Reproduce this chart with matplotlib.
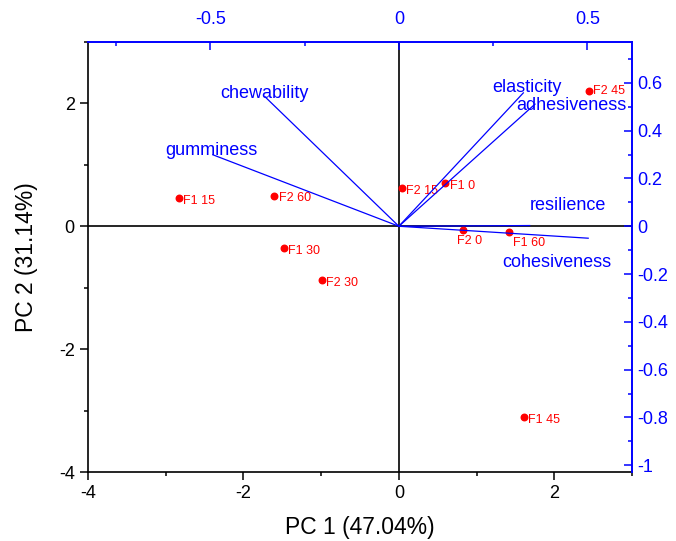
"""PCA biplot of texture attributes: sample scores with attribute loadings."""
import matplotlib.pyplot as plt
from matplotlib.ticker import FuncFormatter, MultipleLocator

plt.rcParams["font.family"] = ["Liberation Sans", "DejaVu Sans"]
plt.rcParams["axes.unicode_minus"] = False

# sample scores (PC1, PC2)
samples = ["F1 15", "F2 60", "F1 30", "F2 30", "F2 15", "F1 0", "F2 0", "F1 60", "F2 45", "F1 45"]
pc1_scores = [-2.83, -1.60, -1.48, -0.99, 0.04, 0.60, 0.82, 1.42, 2.45, 1.61]
pc2_scores = [0.46, 0.50, -0.36, -0.88, 0.62, 0.70, -0.06, -0.09, 2.20, -3.10]

# attribute loadings (PC1, PC2)
attributes = ["chewability", "gumminess", "elasticity", "adhesiveness", "resilience", "cohesiveness"]
pc1_loadings = [-0.355, -0.493, 0.330, 0.361, 0.347, 0.502]
pc2_loadings = [0.542, 0.299, 0.558, 0.511, 0.003, -0.050]

# label placement
score_label_offsets = {"F2 0": (-4, -8), "F1 60": (3, -8), "F2 45": (3, 0)}
attr_label_pos = {
    "chewability": (-0.355, 0.557),
    "gumminess": (-0.496, 0.316),
    "elasticity": (0.340, 0.580),
    "adhesiveness": (0.458, 0.506),
    "resilience": (0.447, 0.088),
    "cohesiveness": (0.419, -0.150),
}

BLUE = "#0000ff"
RED = "#ff0000"
score_xlim, score_ylim = (-4, 3), (-4, 3)
load_xscale, load_yscale = 4.852, 3.89

fig = plt.figure(figsize=(6.76, 5.41), dpi=100)
rect = [0.130, 0.1275, 0.805, 0.795]
ax = fig.add_axes(rect)
axl = fig.add_axes(rect, facecolor="none")

# scores axes: bottom / left
ax.set_xlim(*score_xlim)
ax.set_ylim(*score_ylim)
ax.axhline(0, color="black", lw=1.2, zorder=1)
ax.axvline(0, color="black", lw=1.2, zorder=1)
ax.scatter(pc1_scores, pc2_scores, s=22, color=RED, zorder=3)
for name, x, y in zip(samples, pc1_scores, pc2_scores):
    dx, dy = score_label_offsets.get(name, (3, -2))
    ax.annotate(name, (x, y), xytext=(dx, dy), textcoords="offset points",
                ha="left", va="center", fontsize=9, color=RED)

ax.xaxis.set_major_locator(MultipleLocator(2))
ax.xaxis.set_minor_locator(MultipleLocator(1))
ax.yaxis.set_major_locator(MultipleLocator(2))
ax.yaxis.set_minor_locator(MultipleLocator(1))
ax.tick_params(which="both", direction="out", width=1.1, labelsize=13)
ax.tick_params(which="major", length=6)
ax.tick_params(which="minor", length=3)
for side in ("top", "right"):
    ax.spines[side].set_visible(False)
for side in ("left", "bottom"):
    ax.spines[side].set_linewidth(1.2)
ax.set_xlabel("PC 1 (47.04%)", fontsize=16.5, labelpad=10)
ax.set_ylabel("PC 2 (31.14%)", fontsize=16.5, labelpad=15)

# loadings axes: top / right
axl.set_xlim(score_xlim[0] / load_xscale, score_xlim[1] / load_xscale)
axl.set_ylim(score_ylim[0] / load_yscale, score_ylim[1] / load_yscale)
for name, lx, ly in zip(attributes, pc1_loadings, pc2_loadings):
    axl.plot([0, lx], [0, ly], color=BLUE, lw=0.9)
    tx, ty = attr_label_pos[name]
    axl.text(tx, ty, name, ha="center", va="center", fontsize=13, color=BLUE)

axl.xaxis.tick_top()
axl.yaxis.tick_right()
axl.xaxis.set_major_locator(MultipleLocator(0.5))
axl.xaxis.set_minor_locator(MultipleLocator(0.25))
axl.yaxis.set_major_locator(MultipleLocator(0.2))
axl.yaxis.set_minor_locator(MultipleLocator(0.1))
fmt = FuncFormatter(lambda v, _: f"{v:g}" if abs(v) > 1e-9 else "0")
axl.xaxis.set_major_formatter(fmt)
axl.yaxis.set_major_formatter(fmt)
axl.tick_params(which="both", direction="in", color=BLUE, labelcolor=BLUE,
                width=1.1, labelsize=13)
axl.tick_params(which="major", length=6)
axl.tick_params(which="minor", length=3)
axl.tick_params(axis="x", pad=10)
for side in ("left", "bottom"):
    axl.spines[side].set_visible(False)
for side in ("top", "right"):
    axl.spines[side].set_color(BLUE)
    axl.spines[side].set_linewidth(1.4)

fig.savefig("out.png", dpi=100)
